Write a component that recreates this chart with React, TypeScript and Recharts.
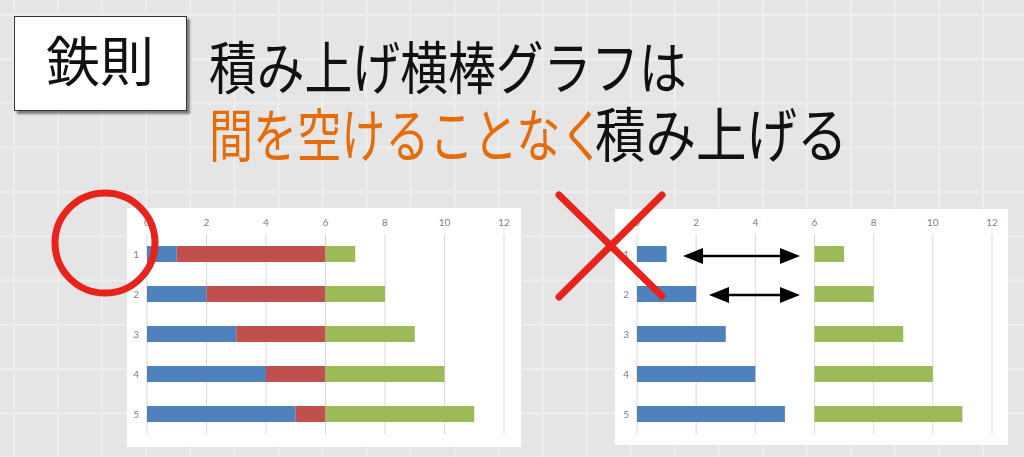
import { BarChart, Bar, XAxis, YAxis, CartesianGrid } from 'recharts'

const categories = ['1', '2', '3', '4', '5']
const blueValues = [1, 2, 3, 4, 5]
const redValues = [5, 4, 3, 2, 1]
const greenValues = [1, 2, 3, 4, 5]
const xTicks = [0, 2, 4, 6, 8, 10, 12]

const BLUE = '#4F81BD'
const RED = '#C0504D'
const GREEN = '#9BBB59'
const MARK_RED = '#E8231C'
const ORANGE = '#E46C0A'
const JP_FONT = '"Noto Sans CJK JP", "Noto Sans", sans-serif'

const rows = categories.map((name, i) => ({
  name,
  blue: blueValues[i],
  red: redValues[i],
  green: greenValues[i],
}))

const tickStyle = { fontSize: 10, fill: '#7F7F7F', fontFamily: 'Lato, "Open Sans", sans-serif' }

function StackChart({ showGap, width, height, margin, yWidth, xHeight }: {
  showGap: boolean
  width: number
  height: number
  margin: { top: number; right: number; bottom: number; left: number }
  yWidth: number
  xHeight: number
}) {
  return (
    <BarChart width={width} height={height} data={rows} layout="vertical" margin={margin} barSize={16}>
      <CartesianGrid horizontal={false} stroke="#D9D9D9" />
      <XAxis
        type="number"
        orientation="top"
        domain={[0, 12]}
        ticks={xTicks}
        axisLine={false}
        tickLine={false}
        height={xHeight}
        tick={tickStyle}
        interval={0}
      />
      <YAxis
        type="category"
        dataKey="name"
        axisLine={false}
        tickLine={false}
        width={yWidth}
        tick={tickStyle}
      />
      <Bar dataKey="blue" stackId="s" fill={BLUE} isAnimationActive={false} />
      <Bar dataKey="red" stackId="s" fill={showGap ? RED : 'none'} isAnimationActive={false} />
      <Bar dataKey="green" stackId="s" fill={GREEN} isAnimationActive={false} />
    </BarChart>
  )
}

// tall, narrow slide lettering: font size sets the width, scaleY the height
function SlideText({ x, y, size, sy, fill, children }: {
  x: number
  y: number
  size: number
  sy: number
  fill: string
  children: string
}) {
  return (
    <text transform={`translate(${x} ${y}) scale(1 ${sy})`} fontSize={size} fontFamily={JP_FONT} fill={fill}>
      {children}
    </text>
  )
}

export default function App() {
  return (
    <div
      style={{
        position: 'absolute',
        left: 0,
        top: 0,
        width: 1024,
        height: 457,
        overflow: 'hidden',
        backgroundColor: '#E5E5E5',
        backgroundImage:
          'linear-gradient(to right, #EEEEEE 2px, transparent 2px), linear-gradient(to bottom, #EEEEEE 2px, transparent 2px)',
        backgroundSize: '44.05px 44.25px',
        backgroundPosition: '13px 14px',
      }}
    >
      {/* title box */}
      <div
        style={{
          position: 'absolute',
          left: 14,
          top: 16,
          width: 171,
          height: 93,
          background: '#FFFFFF',
          border: '1px solid #333',
          boxShadow: '3px 3px 2px rgba(0,0,0,0.45)',
        }}
      />

      {/* chart panels */}
      <div style={{ position: 'absolute', left: 127, top: 208, width: 394, height: 239, background: '#FFFFFF' }}>
        <StackChart
          showGap
          width={394}
          height={239}
          margin={{ top: 0, right: 17, bottom: 13, left: 0 }}
          yWidth={20}
          xHeight={26}
        />
      </div>
      <div style={{ position: 'absolute', left: 615, top: 209, width: 393, height: 236, background: '#FFFFFF' }}>
        <StackChart
          showGap={false}
          width={393}
          height={236}
          margin={{ top: 0, right: 16, bottom: 11, left: 0 }}
          yWidth={22}
          xHeight={25}
        />
      </div>

      {/* text and marks */}
      <svg width={1024} height={457} style={{ position: 'absolute', left: 0, top: 0, pointerEvents: 'none' }}>
        <text x={100} y={82} textAnchor="middle" fontSize={54} fontFamily={JP_FONT} fill="#111">
          鉄則
        </text>
        <SlideText x={209} y={89} size={47.8} sy={1.2} fill="#111">積み上げ横棒グラフは</SlideText>
        <SlideText x={209} y={157} size={44.1} sy={1.31} fill={ORANGE}>間を空けることなく</SlideText>
        <SlideText x={595} y={157} size={50.5} sy={1.16} fill="#111">積み上げる</SlideText>

        <circle cx={105} cy={243} r={50} fill="none" stroke={MARK_RED} strokeWidth={7} />

        <line x1={559} y1={195} x2={662} y2={296} stroke={MARK_RED} strokeWidth={7} strokeLinecap="round" />
        <line x1={662} y1={195} x2={559} y2={297} stroke={MARK_RED} strokeWidth={7} strokeLinecap="round" />

        <line x1={700} y1={256} x2={783} y2={256} stroke="#000" strokeWidth={2.5} />
        <polygon points="683,256 703,248 703,264" fill="#000" />
        <polygon points="800,256 780,248 780,264" fill="#000" />
        <line x1={726} y1={295} x2={783} y2={295} stroke="#000" strokeWidth={2.5} />
        <polygon points="709,295 729,287 729,303" fill="#000" />
        <polygon points="800,295 780,287 780,303" fill="#000" />
      </svg>
    </div>
  )
}
